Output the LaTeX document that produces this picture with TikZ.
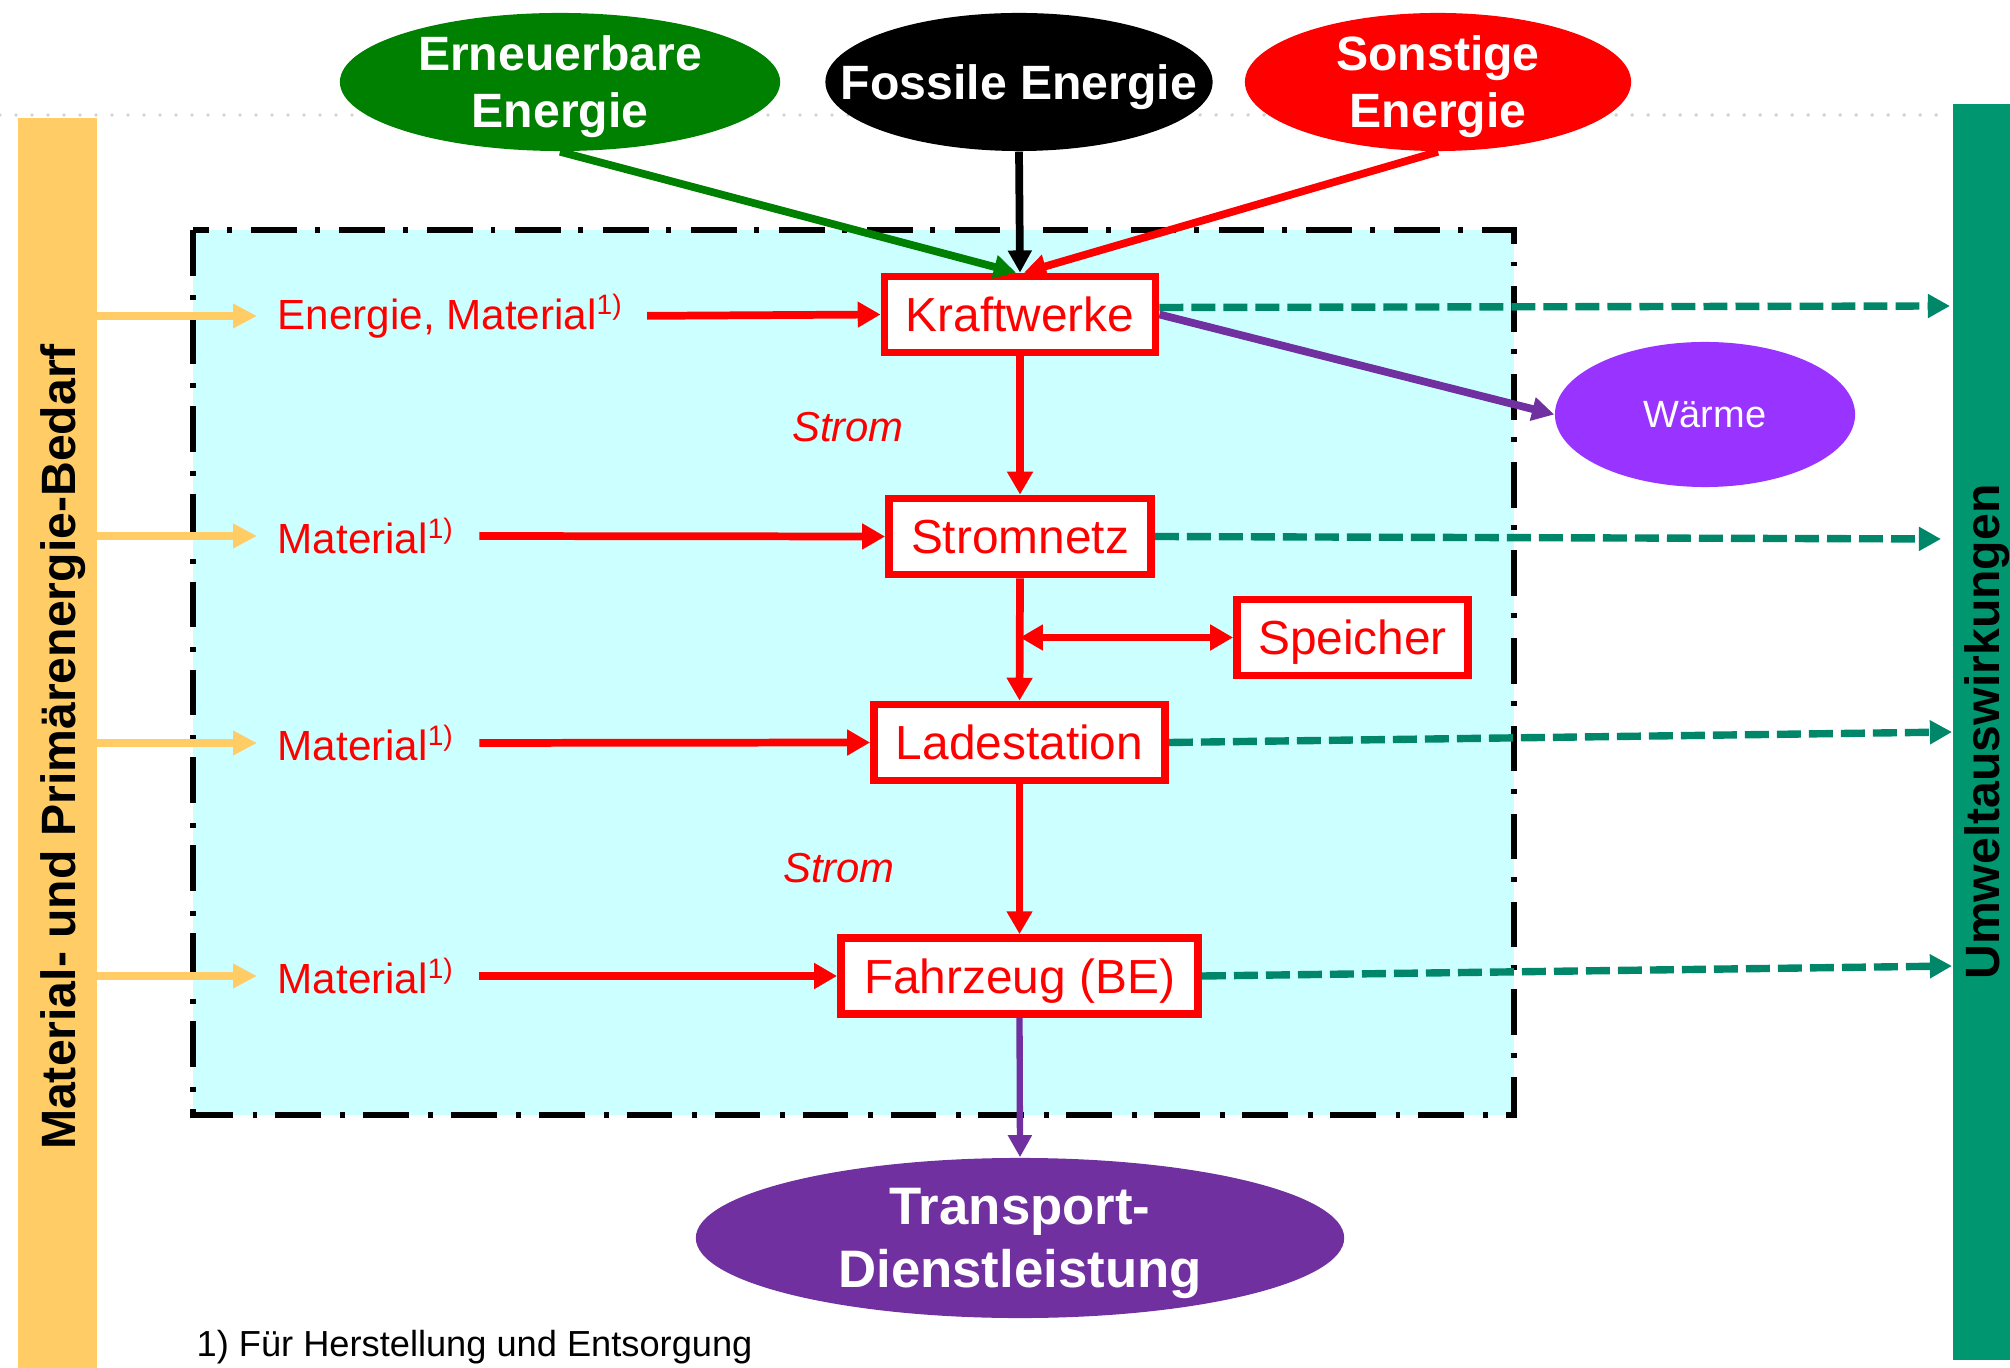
\documentclass[tikz,border=0pt]{standalone}
\usepackage{fontspec}
\setmainfont{Liberation Sans}
\usetikzlibrary{arrows.meta,positioning,shapes.geometric}

\definecolor{erneuergruen}{HTML}{008000}
\definecolor{umweltgruen}{HTML}{009670}
\definecolor{strichgruen}{HTML}{00876A}
\definecolor{matorange}{HTML}{FFCC66}
\definecolor{bilanzcyan}{HTML}{CCFFFF}
\definecolor{waermeviolett}{HTML}{9933FF}
\definecolor{transviolett}{HTML}{7030A0}

\begin{document}
\begin{tikzpicture}[x=0.01cm,y=-0.01cm,
    quelle/.style={ellipse, inner xsep=-3cm, inner ysep=-2cm, text=white, align=center, text depth=0pt,
      minimum height=1.38cm, font=\fontsize{13.7}{16.2}\selectfont\bfseries},
    anlage/.style={draw=red, line width=2.2pt, fill=white, text=red, inner sep=0pt, text depth=0pt,
      minimum height=0.76cm, font=\fontsize{13.6}{16}\selectfont},
    eingang/.style={anchor=west, inner sep=0pt, text=red, font=\fontsize{12}{14}\selectfont},
    strom/.style={text=red, inner sep=0pt, font=\fontsize{11.9}{14}\selectfont\itshape},
    balken/.style={anchor=north west, inner sep=0pt},
    senkrecht/.style={rotate=90, anchor=base, inner sep=0pt, font=\fontsize{13.7}{16}\selectfont\bfseries},
    rpfeil/.style={red, line width=2.2pt, -{Triangle[length=6.5pt,width=7pt]}},
    rdoppel/.style={red, line width=2.2pt, {Triangle[length=6.5pt,width=7pt]}-{Triangle[length=6.5pt,width=7pt]}},
    opfeil/.style={matorange, line width=2.2pt, -{Triangle[length=6.8pt,width=6.6pt]}, shorten >=0.2cm},
    gpfeil/.style={strichgruen, line width=2.1pt, dash pattern=on 6.8pt off 2.3pt, -{Triangle[length=6.3pt,width=6.5pt]}},
    qpfeil/.style={line width=2.2pt, -{Triangle[length=6.3pt,width=6.5pt]}},
    vpfeil/.style={transviolett, -{Triangle[length=6.3pt,width=6.5pt]}},
    ]
    \useasboundingbox (0,0) rectangle (2010,1368);

    % dotted line
    \draw[gray!35, line width=1.1pt, line cap=round, dash pattern=on 0pt off 4.55pt] (0,115) -- (1950,115);

    % bars
    \node[balken, fill=matorange, minimum width=0.79cm, minimum height=12.51cm] (mat) at (17,117) {};
    \node[balken, fill=umweltgruen, minimum width=0.6cm, minimum height=12.56cm] (umw) at (1952,103) {};
    \node[senkrecht] (mattext) at (75,747) {Material- und Primärenergie-Bedarf};
    \node[senkrecht] (umwtext) at (1999,732) {Umweltauswirkungen};

    % balance box
    \draw[fill=bilanzcyan, line width=1.6pt, dash pattern=on 13pt off 5.6pt on 1.4pt off 5pt] (193,230) rectangle (1514,1115);

    % sources
    \node[quelle, fill=erneuergruen, minimum width=4.4cm] (ern) at (560,82) {Erneuerbare\\Energie};
    \node[quelle, fill=black, minimum width=3.87cm] (fos) at (1019,82) {Fossile Energie};
    \node[quelle, fill=red, minimum width=3.86cm] (son) at (1438,82) {Sonstige\\Energie};

    % chain
    \node[anlage, minimum width=2.71cm] (kw) at (1020,314.5) {Kraftwerke};
    \node[anlage, minimum width=2.62cm] (sn) at (1020,536.5) {Stromnetz};
    \node[anlage, minimum width=2.31cm] (spe) at (1352.5,637.5) {Speicher};
    \node[anlage, minimum width=2.91cm] (ls) at (1019.5,742.5) {Ladestation};
    \node[anlage, minimum width=3.57cm] (fz) at (1019.5,976) {Fahrzeug (BE)};

    \node[quelle, fill=waermeviolett, minimum width=3cm, minimum height=1.45cm,
      font=\fontsize{10.8}{13}\selectfont] (wae) at (1705,414.5) {Wärme};
    \node[quelle, fill=transviolett, minimum width=6.48cm, minimum height=1.6cm,
      font=\fontsize{15}{18}\selectfont\bfseries] (trans) at (1020,1238) {Transport-\\Dienstleistung};

    % inputs
    \node[eingang] (e1) at (277,316) {Energie, Material\textsuperscript{1)}};
    \node[eingang] (e2) at (277,536) {Material\textsuperscript{1)}};
    \node[eingang] (e3) at (277,743) {Material\textsuperscript{1)}};
    \node[eingang] (e4) at (277,976) {Material\textsuperscript{1)}};

    \node[strom] (s1) at (848,427) {Strom};
    \node[strom] (s2) at (839,868) {Strom};

    \node[anchor=west, inner sep=0pt, font=\fontsize{10.3}{12}\selectfont] (fn) at (196,1347) {1) Für Herstellung und Entsorgung};

    % arrows from sources
    \draw[qpfeil, erneuergruen] (ern.south) -- ([xshift=-0.04cm]kw.north);
    \draw[qpfeil, black] (fos.south) -- (kw.north);
    \draw[qpfeil, red] (son.south) -- ([xshift=0.04cm]kw.north);

    % material arrows
    \foreach \e in {e1,e2,e3,e4}
        \draw[opfeil] (mat.east |- \e.west) -- (\e.west);
    \draw[rpfeil, shorten <=0.23cm] (e1.east) -- (kw.west);
    \draw[rpfeil, shorten <=0.24cm] (e2.east) -- (sn.west);
    \draw[rpfeil, shorten <=0.24cm] (e3.east) -- (ls.west);
    \draw[rpfeil, shorten <=0.24cm] (e4.east) -- (fz.west);

    % electricity
    \draw[rpfeil] (kw.south) -- (sn.north);
    \draw[rpfeil] (sn.south) -- (ls.north);
    \draw[rpfeil] (ls.south) -- (fz.north);
    \coordinate (abzw) at (sn.south |- spe.west);
    \draw[rdoppel] (abzw) -- (spe.west);

    % emissions
    \coordinate (u1) at (1950,306);
    \coordinate (u2) at (1941,539);
    \coordinate (u3) at (1952,732);
    \coordinate (u4) at (1952,966);
    \draw[gpfeil] ([yshift=0.07cm]kw.east) -- (u1);
    \draw[gpfeil] (sn.east) -- (u2);
    \draw[gpfeil] (ls.east) -- (u3);
    \draw[gpfeil] (fz.east) -- (u4);

    % heat and service
    \draw[vpfeil, line width=2.2pt] (kw.east) -- (wae.west);
    \draw[vpfeil, line width=1.8pt] (fz.south) -- (trans.north);
\end{tikzpicture}
\end{document}
